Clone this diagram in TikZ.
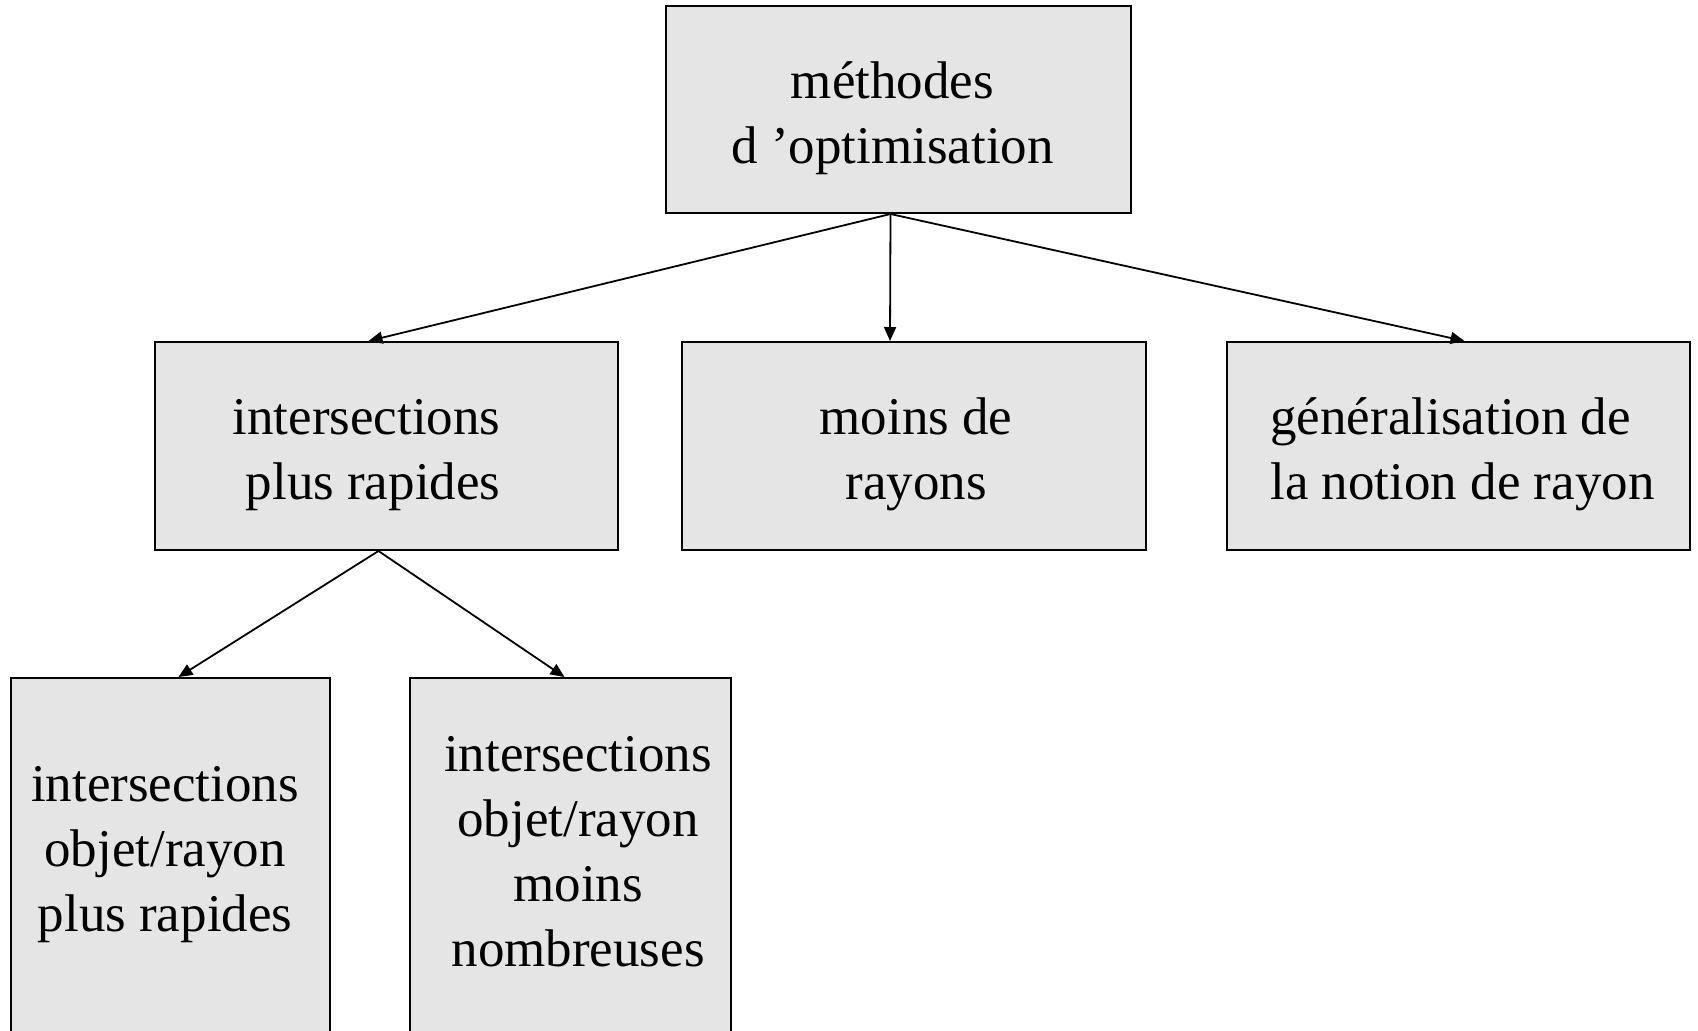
\documentclass[tikz,border=0pt]{standalone}
\usepackage{fontspec}
\setmainfont{Liberation Serif}
\usetikzlibrary{arrows.meta}
\definecolor{boxfill}{RGB}{229,229,229}
\newcommand{\boxtext}[4]{\hspace*{#1}\raisebox{#2}[\height][\depth]{\begin{tabular}{@{}#3@{}}#4\end{tabular}}\hspace*{-#1}}
\tikzset{
  box/.style={draw=black, line width=1pt, fill=boxfill, rectangle, inner sep=0pt,
    font=\fontsize{26.5}{32.5}\selectfont},
  conn/.style={draw=black, line width=0.9pt, -{Triangle[length=7pt,width=6pt]}}
}
\begin{document}
\begin{tikzpicture}[x=0.5pt,y=-0.5pt]
\useasboundingbox (0,0) rectangle (1698,1030);
\clip (0,0) rectangle (1698,1030);
\fill[white] (0,0) rectangle (1698,1030);
\node[box, minimum width=232.5pt, minimum height=103.5pt] (top) at (898.5,109.5)
  {\boxtext{-3pt}{-4pt}{c}{méthodes\\d ’optimisation}};
\node[box, minimum width=231.5pt, minimum height=104pt] (a) at (386.5,446)
  {\boxtext{-10pt}{-4pt}{r}{intersections\\plus rapides}};
\node[box, minimum width=232pt, minimum height=104pt] (b) at (914,446)
  {\boxtext{1pt}{-4pt}{c}{moins de\\rayons}};
\node[box, minimum width=231.5pt, minimum height=104pt] (c) at (1458.5,446)
  {\boxtext{2pt}{-4pt}{l}{généralisation de\\la notion de rayon}};
\node[box, minimum width=159.5pt, minimum height=181pt] (d) at (170.5,859)
  {\boxtext{-2.7pt}{2.6pt}{c}{intersections\\objet/rayon\\plus rapides}};
\node[box, minimum width=160.5pt, minimum height=181pt] (e) at (570.5,859)
  {\boxtext{3.8pt}{1.6pt}{c}{intersections\\objet/rayon\\moins\\nombreuses}};
\draw[conn] ([xshift=-4pt]top.south) -- ([xshift=-9pt]a.north);
\draw[conn] ([xshift=-4pt]top.south) -- ([xshift=-12pt]b.north);
\draw[conn] ([xshift=-4pt]top.south) -- ([xshift=3pt]c.north);
\draw[conn] ([xshift=-4pt]a.south) -- ([xshift=4pt]d.north);
\draw[conn] ([xshift=-4pt]a.south) -- ([xshift=-3pt]e.north);
\end{tikzpicture}
\end{document}
